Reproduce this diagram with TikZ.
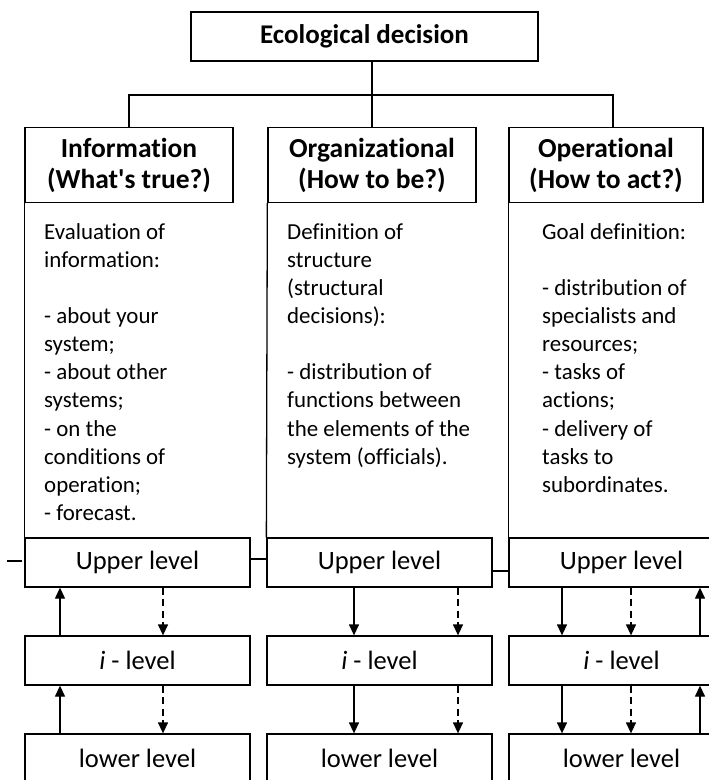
\documentclass[tikz,border=0pt]{standalone}
\usepackage{fontspec}
\setmainfont{Carlito}[Ligatures={TeXOff,CommonOff}]
\usetikzlibrary{arrows.meta}
\begin{document}
\begin{tikzpicture}[x=1pt,y=-1pt,
  ln/.style={line width=1.3pt},
  box/.style={draw, ln, inner sep=0pt, align=center},
  hdr/.style={box, minimum height=75, font=\bfseries\fontsize{27.5}{31}\selectfont},
  lvl/.style={box, minimum width=225, minimum height=49, font=\fontsize{26.5}{30}\selectfont},
  body/.style={anchor=north west, inner sep=0pt, align=left, font=\fontsize{22.9}{28.1}\selectfont},
  solidarrow/.style={ln, -{Triangle[width=10pt,length=11pt]}},
  dasharrow/.style={ln, dash pattern=on 7pt off 4.5pt, -{Triangle[width=10pt,length=11pt]}}
]
\useasboundingbox (0,0) rectangle (709,780);
\clip (0,0) rectangle (709,780);

% top
\node[box, minimum width=347, minimum height=49, font=\bfseries\fontsize{27}{30}\selectfont] (top) at (364.5,36.5) {Ecological decision};

% headers
\node[hdr, minimum width=208] (infoh) at (129,165) {Information\\(What's true?)};
\node[hdr, minimum width=208] (orgh) at (372,165) {Organizational\\(How to be?)};
\node[hdr, minimum width=194] (oph) at (606,165) {Operational\\(How to act?)};

\coordinate (bar) at (371,95);
\coordinate (opin) at (613,128);
\draw[ln] (top.south -| orgh.north) -- (orgh.north);
\draw[ln] (infoh.north) |- (bar) -| (opin);

% level boxes
\node[lvl] (infoup) at (137.5,562.5) {Upper level};
\node[lvl] (infoi) at (137.5,660.5) {\textit{i} - level};
\node[lvl] (infolo) at (137.5,758.5) {lower level};
\node[lvl] (orgup) at (379.5,562.5) {Upper level};
\node[lvl] (orgi) at (379.5,660.5) {\textit{i} - level};
\node[lvl] (orglo) at (379.5,758.5) {lower level};
\node[lvl] (opup) at (621.5,562.5) {Upper level};
\node[lvl] (opi) at (621.5,660.5) {\textit{i} - level};
\node[lvl] (oplo) at (621.5,758.5) {lower level};

% column side lines
\draw[ln] (infoh.south west) -- (infoup.north west);
\draw[ln] (orgh.south west) -- (orgup.north west);
\draw[ln] (oph.south west) -- (opup.north west);

% horizontal links between upper boxes
\coordinate (stubA) at (7,561);
\coordinate (stubB) at (22,561);
\draw[ln] (stubA) -- (stubB);
\draw[ln] (infoup.east |- 0,559) -- (orgup.west |- 0,559);
\draw[ln] (orgup.east |- 0,571) -- (opup.west |- 0,571);

% body texts
\node[body] (infob) at (44,219.5) {\strut Evaluation of\\ information:\\[28.1pt] - about your\\ system;\\ - about other\\ systems;\\ - on the\\ conditions of\\ operation;\\ - forecast.};
\node[body] (orgb) at (287,219.5) {\strut Definition of\\ structure\\ (structural\\ decisions):\\[28.1pt] - distribution of\\ functions between\\ the elements of the\\ system (officials).};
\node[body] (opb) at (542,219.5) {\strut Goal definition:\\[28.1pt] - distribution of\\ specialists and\\ resources;\\ - tasks of\\ actions;\\ - delivery of\\ tasks to\\ subordinates.};

% arrows: information column
\draw[solidarrow] (infoi.north -| 60,0) -- (infoup.south -| 60,0);
\draw[dasharrow] (infoup.south -| 163,0) -- (infoi.north -| 163,0);
\draw[solidarrow] (infolo.north -| 60,0) -- (infoi.south -| 60,0);
\draw[dasharrow] (infoi.south -| 163,0) -- (infolo.north -| 163,0);

% arrows: organizational column
\draw[solidarrow] (orgup.south -| 354,0) -- (orgi.north -| 354,0);
\draw[dasharrow] (orgup.south -| 458,0) -- (orgi.north -| 458,0);
\draw[solidarrow] (orgi.south -| 354,0) -- (orglo.north -| 354,0);
\draw[dasharrow] (orgi.south -| 458,0) -- (orglo.north -| 458,0);

% arrows: operational column
\draw[solidarrow] (opup.south -| 562,0) -- (opi.north -| 562,0);
\draw[dasharrow] (opup.south -| 631,0) -- (opi.north -| 631,0);
\draw[solidarrow] (opi.north -| 700,0) -- (opup.south -| 700,0);
\draw[solidarrow] (opi.south -| 562,0) -- (oplo.north -| 562,0);
\draw[dasharrow] (opi.south -| 631,0) -- (oplo.north -| 631,0);
\draw[solidarrow] (oplo.north -| 700,0) -- (opi.south -| 700,0);
\end{tikzpicture}
\end{document}
